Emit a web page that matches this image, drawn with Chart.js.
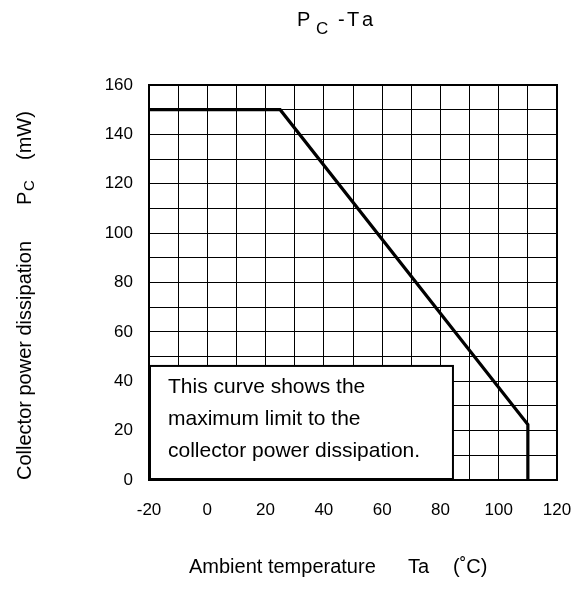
<!DOCTYPE html>
<html>
<head>
<meta charset="utf-8">
<script src="https://cdn.jsdelivr.net/npm/chart.js@4"></script>
<style>
  html, body { margin: 0; padding: 0; background: #fff; }
  #wrap { width: 581px; height: 597px; position: relative; }
</style>
</head>
<body>
<div id="wrap"><canvas id="chart" width="581" height="597"></canvas></div>
<script>
// derating curve: Pc (mW) vs Ta (degC)
const tempPoints = [-20, 25, 110, 110];
const powerPoints = [150, 150, 22.5, 0];

const xTickLabels = [-20, 0, 20, 40, 60, 80, 100, 120];
const yTickLabels = [0, 20, 40, 60, 80, 100, 120, 140, 160];

const noteLines = ['This curve shows the', 'maximum limit to the', 'collector power dissipation.'];

const FONT = '"Liberation Sans", Arial, sans-serif';

// white note box, frame, titles
const decorations = {
    id: 'decorations',
    beforeDatasetsDraw(chart) {
        const ctx = chart.ctx;
        const x = chart.scales.x, y = chart.scales.y;
        const l = x.getPixelForValue(-20) + 1, r = x.getPixelForValue(84.3);
        const t = y.getPixelForValue(46.2), b = y.getPixelForValue(0) - 1;
        ctx.save();
        ctx.fillStyle = '#fff';
        ctx.fillRect(l, t, r - l, b - t);
        ctx.strokeStyle = '#000';
        ctx.lineWidth = 2;
        ctx.strokeRect(l, t, r - l, b - t);
        ctx.fillStyle = '#000';
        ctx.font = '21px ' + FONT;
        ctx.textBaseline = 'middle';
        noteLines.forEach((s, i) => ctx.fillText(s, l + 18, t + 21 + i * 32));
        ctx.restore();
    },
    afterDraw(chart) {
        const ctx = chart.ctx;
        const a = chart.chartArea;
        ctx.save();
        ctx.strokeStyle = '#000';
        ctx.lineWidth = 2;
        ctx.strokeRect(a.left, a.top, a.right - a.left, a.bottom - a.top);

        ctx.fillStyle = '#000';
        ctx.textBaseline = 'alphabetic';
        // chart title  P_C - Ta
        ctx.font = '20px ' + FONT;
        ctx.fillText('P', 297, 26);
        ctx.font = '17px ' + FONT;
        ctx.fillText('C', 316, 34);
        ctx.font = '20px ' + FONT;
        ctx.fillText('-', 338, 26);
        ctx.fillText('T', 347, 26);
        ctx.fillText('a', 362, 26);

        // x axis title
        ctx.font = '20px ' + FONT;
        ctx.fillText('Ambient temperature', 189, 573);
        ctx.fillText('Ta', 408, 573);
        ctx.fillText('(\u02DAC)', 453, 573);

        // y axis title
        ctx.translate(31, 480);
        ctx.rotate(-Math.PI / 2);
        ctx.font = '20px ' + FONT;
        ctx.fillText('Collector power dissipation', 0, 0);
        ctx.fillText('P', 275, 0);
        ctx.font = '15px ' + FONT;
        ctx.fillText('C', 289, 3);
        ctx.font = '20px ' + FONT;
        ctx.fillText('(mW)', 320, 0);
        ctx.restore();
    }
};

const ctx = document.getElementById('chart').getContext('2d');
new Chart(ctx, {
    type: 'line',
    data: {
        datasets: [{
            data: tempPoints.map((t, i) => ({ x: t, y: powerPoints[i] })),
            borderColor: '#000',
            borderWidth: 3.2,
            pointRadius: 0,
            fill: false,
            tension: 0
        }]
    },
    options: {
        responsive: false,
        animation: false,
        layout: { padding: { top: 85, right: 24, left: 0, bottom: 0 } },
        plugins: { legend: { display: false }, tooltip: { enabled: false } },
        scales: {
            x: {
                type: 'linear',
                min: -20, max: 120,
                afterFit(scale) {
                    scale.height = 117;
                    scale.paddingLeft = 0;
                    scale.paddingRight = 0;
                },
                grid: { color: '#000', lineWidth: 1, drawTicks: false },
                border: { display: false },
                ticks: {
                    stepSize: 10, autoSkip: false, maxRotation: 0, padding: 20,
                    color: '#000', font: { family: FONT, size: 17 },
                    callback: v => xTickLabels.includes(v) ? String(v) : ''
                }
            },
            y: {
                type: 'linear',
                min: 0, max: 160,
                afterFit(scale) {
                    scale.width = 149;
                    scale.paddingTop = 0;
                    scale.paddingBottom = 0;
                },
                grid: { color: '#000', lineWidth: 1, drawTicks: false },
                border: { display: false },
                ticks: {
                    stepSize: 10, autoSkip: false, padding: 16,
                    color: '#000', font: { family: FONT, size: 17 },
                    callback: v => yTickLabels.includes(v) ? String(v) : ''
                }
            }
        }
    },
    plugins: [decorations]
});
</script>
</body>
</html>
